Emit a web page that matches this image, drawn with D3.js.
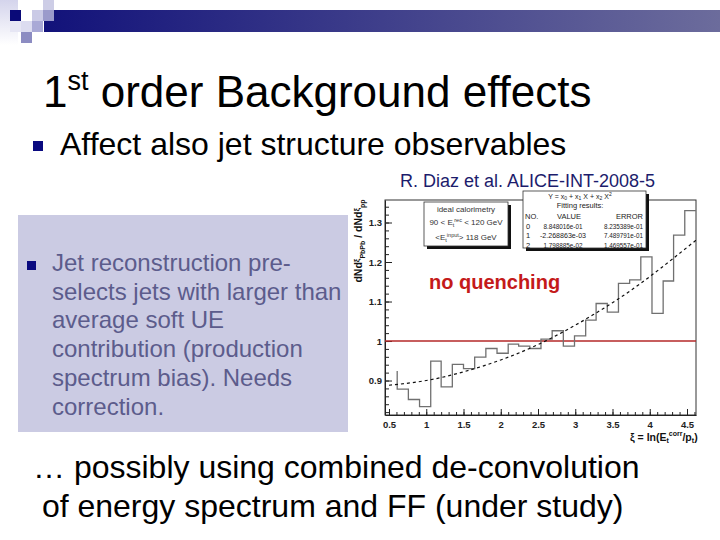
<!DOCTYPE html>
<html>
<head>
<meta charset="utf-8">
<script src="https://cdn.jsdelivr.net/npm/d3@7/dist/d3.min.js"></script>
<style>
  body { margin: 0; background: #fff; }
  svg { display: block; font-family: "Liberation Sans", Arial, sans-serif; }
</style>
</head>
<body>
<div id="slide"></div>
<script>
// bin edges of the ratio histogram (zeta)
const binEdges = [0.61, 0.76, 0.91, 1.06, 1.20, 1.35, 1.50, 1.65, 1.80, 1.95, 2.10, 2.24, 2.39, 2.54,
                  2.69, 2.84, 2.99, 3.14, 3.28, 3.43, 3.58, 3.73, 3.88, 4.03, 4.18, 4.32, 4.47, 4.62];
// dNdxi(PbPb) / dNdxi(pp) per bin
const ratio = [0.878, 0.852, 0.834, 0.949, 0.884, 0.941, 0.930, 0.959, 0.981, 0.969, 0.992, 0.987, 0.981,
               1.005, 1.026, 0.987, 1.013, 1.053, 1.095, 1.073, 1.146, 1.155, 1.213, 1.070, 1.152, 1.268, 1.330];
const leadIn = 0.924; // level the outline comes down from at the first edge
// dashed quadratic fit
const fitX = [0.5, 1.0, 1.5, 2.0, 2.5, 3.0, 3.5, 4.0, 4.62];
const fitY = [0.888, 0.900, 0.922, 0.952, 0.991, 1.040, 1.097, 1.163, 1.255];
const xTicks = [0.5, 1, 1.5, 2, 2.5, 3, 3.5, 4, 4.5];
const yTicks = [0.9, 1, 1.1, 1.2, 1.3];
const fitHeader = ["NO.", "VALUE", "ERROR"];
const fitRows = [
    ["0", "8.848016e-01", "8.235389e-01"],
    ["1", "-2.268863e-03", "7.489791e-01"],
    ["2", "1.798885e-02", "1.469557e-01"]
];
const sideLines = ["Jet reconstruction pre-", "selects jets with larger than", "average soft UE",
                   "contribution (production", "spectrum bias). Needs", "correction."];
const bottomLines = ["\u2026 possibly using combined de-convolution", " of energy spectrum and FF (under study)"];

const W = 720, H = 540;
const svg = d3.select("#slide").append("svg").attr("width", W).attr("height", H);

// ---- slide decoration
const defs = svg.append("defs");
const grad = defs.append("linearGradient").attr("id", "band");
grad.append("stop").attr("offset", "0%").attr("stop-color", "#12127a");
grad.append("stop").attr("offset", "100%").attr("stop-color", "#6c6c9c");
const fade = defs.append("linearGradient").attr("id", "fade").attr("x1", 0).attr("x2", 0).attr("y1", 0).attr("y2", 1);
fade.append("stop").attr("offset", "0%").attr("stop-color", "#d4d4ec");
fade.append("stop").attr("offset", "100%").attr("stop-color", "#ffffff");

svg.append("rect").attr("x", 0).attr("y", 0).attr("width", 18).attr("height", 45).attr("fill", "url(#fade)");
svg.append("rect").attr("x", 44).attr("y", 10).attr("width", 676).attr("height", 22).attr("fill", "url(#band)");
[
    [10, 10, "#0a0a78"], [32, 10, "#cacae6"], [43, 0, "#cdcde6"], [43, 10, "#9a9acb"],
    [21, 21, "#dcdcf0"], [32, 21, "#a9a9d6"], [21, 32, "#8c8cc2"], [10, 21, "#e6e6f4"]
].forEach(([x, y, c]) => svg.append("rect").attr("x", x).attr("y", y)
    .attr("width", 11).attr("height", 11).attr("fill", c));

// ---- title and bullets
const title = svg.append("text").attr("x", 43).attr("y", 107).attr("font-size", 44).attr("fill", "#000");
title.append("tspan").text("1");
title.append("tspan").attr("font-size", 27).attr("dy", -17).text("st");
title.append("tspan").attr("dy", 17).text(" order Background effects");

svg.append("rect").attr("x", 33).attr("y", 141).attr("width", 10).attr("height", 10).attr("fill", "#0a0a80");
svg.append("text").attr("x", 60).attr("y", 155).attr("font-size", 32).attr("fill", "#000")
    .text("Affect also jet structure observables");

svg.append("text").attr("x", 400).attr("y", 187).attr("font-size", 18).attr("fill", "#1c1c6c")
    .text("R. Diaz et al. ALICE-INT-2008-5");

// side box
svg.append("rect").attr("x", 18).attr("y", 215).attr("width", 330).attr("height", 217).attr("fill", "#cbcbe3");
svg.append("rect").attr("x", 27).attr("y", 261).attr("width", 9).attr("height", 9).attr("fill", "#0a0a80");
svg.append("g").selectAll("text").data(sideLines).join("text")
    .attr("x", 52).attr("y", (d, i) => 271 + i * 28.7)
    .attr("font-size", 24).attr("fill", "#5c5c8c").text(d => d);

svg.append("g").selectAll("text").data(bottomLines).join("text")
    .attr("x", 33).attr("y", (d, i) => 478 + i * 39)
    .attr("font-size", 32).attr("fill", "#000").attr("xml:space", "preserve").text(d => d);

// ---- the plot
const x = d3.scaleLinear().domain([0.4463, 4.6208]).range([385, 696]);
const y = d3.scaleLinear().domain([0.8127, 1.357]).range([415, 200]);
const plot = svg.append("g").attr("font-weight", "bold");

defs.append("clipPath").attr("id", "clip").append("rect")
    .attr("x", 385).attr("y", 200).attr("width", 311).attr("height", 215);

plot.append("rect").attr("x", 385).attr("y", 200).attr("width", 311).attr("height", 215)
    .attr("fill", "#fff").attr("stroke", "#333").attr("stroke-width", 1);

// axes
const fmt = d3.format("~g");
plot.append("g").attr("transform", "translate(0,415)")
    .call(d3.axisBottom(x).tickValues(xTicks).tickSize(-6).tickSizeOuter(0).tickPadding(6).tickFormat(fmt));
plot.append("g").attr("transform", "translate(0,415)")
    .call(d3.axisBottom(x).tickValues(d3.range(0.5, 4.61, 0.1)).tickSize(-3).tickFormat(""))
    .call(g => g.select(".domain").remove());
plot.append("g").attr("transform", "translate(385,0)")
    .call(d3.axisLeft(y).tickValues(yTicks).tickSize(-7).tickSizeOuter(0).tickPadding(3).tickFormat(fmt));
plot.append("g").attr("transform", "translate(385,0)")
    .call(d3.axisLeft(y).tickValues(d3.range(0.82, 1.355, 0.02)).tickSize(-4).tickFormat(""))
    .call(g => g.select(".domain").remove());
plot.selectAll(".tick text").attr("font-size", 9.5).attr("font-family", "Liberation Sans, Arial, sans-serif")
    .attr("font-weight", "bold").attr("fill", "#222");
plot.selectAll(".domain, .tick line").attr("stroke", "#222");

// red reference at 1
plot.append("line").attr("x1", x.range()[0]).attr("x2", x.range()[1])
    .attr("y1", y(1)).attr("y2", y(1)).attr("stroke", "#b42828").attr("stroke-width", 1.3);

// histogram outline
const steps = [[binEdges[0], leadIn]];
ratio.forEach((v, i) => { steps.push([binEdges[i], v]); steps.push([binEdges[i + 1], v]); });
plot.append("path").attr("clip-path", "url(#clip)")
    .attr("d", d3.line().x(d => x(d[0])).y(d => y(d[1]))(steps))
    .attr("fill", "none").attr("stroke", "#707070").attr("stroke-width", 1.3);

// fit curve
plot.append("path").attr("clip-path", "url(#clip)")
    .attr("d", d3.line().x(d => x(d[0])).y(d => y(d[1])).curve(d3.curveNatural)(fitX.map((v, i) => [v, fitY[i]])))
    .attr("fill", "none").attr("stroke", "#111").attr("stroke-width", 1.2).attr("stroke-dasharray", "3,3");

// axis titles
const yl = plot.append("text").attr("transform", "translate(362,241) rotate(-90)")
    .attr("text-anchor", "middle").attr("font-size", 10.5).attr("fill", "#111");
yl.append("tspan").text("dNd");
yl.append("tspan").attr("font-size", 8).attr("dy", -3).text("\u03be");
yl.append("tspan").attr("font-size", 7).attr("dy", 6).text("PbPb");
yl.append("tspan").attr("dy", -3).text(" / dNd");
yl.append("tspan").attr("font-size", 8).attr("dy", -3).text("\u03be");
yl.append("tspan").attr("font-size", 7).attr("dy", 6).text("pp");

const xl = plot.append("text").attr("x", 630).attr("y", 441).attr("font-size", 10.5).attr("fill", "#111");
xl.append("tspan").text("\u03be = ln(E");
xl.append("tspan").attr("font-size", 7).attr("dy", 2).text("t");
xl.append("tspan").attr("font-size", 7).attr("dy", -7).text("corr");
xl.append("tspan").attr("dy", 5).text("/p");
xl.append("tspan").attr("font-size", 7).attr("dy", 2).text("t");
xl.append("tspan").attr("dy", -2).text(")");

// "no quenching"
svg.append("text").attr("x", 429).attr("y", 289).attr("font-size", 20).attr("font-weight", "bold")
    .attr("fill", "#c41a1a").text("no quenching");

// boxes with shadow
function pave(x0, y0, w, h) {
    svg.append("rect").attr("x", x0 + 3).attr("y", y0 + 3).attr("width", w).attr("height", h).attr("fill", "#111");
    svg.append("rect").attr("x", x0).attr("y", y0).attr("width", w).attr("height", h)
        .attr("fill", "#fff").attr("stroke", "#333").attr("stroke-width", 0.8);
}
pave(424, 202, 84, 44);
const cal = svg.append("g").attr("font-size", 8).attr("fill", "#333").attr("text-anchor", "middle");
cal.append("text").attr("x", 466).attr("y", 212).text("ideal calorimetry");
const c2 = cal.append("text").attr("x", 466).attr("y", 225);
c2.append("tspan").text("90 < E");
c2.append("tspan").attr("font-size", 5.5).attr("dy", 2).text("t");
c2.append("tspan").attr("font-size", 5.5).attr("dy", -5).text("rec");
c2.append("tspan").attr("dy", 3).text(" < 120 GeV");
const c3 = cal.append("text").attr("x", 466).attr("y", 240);
c3.append("tspan").text("<E");
c3.append("tspan").attr("font-size", 5.5).attr("dy", 2).text("t");
c3.append("tspan").attr("font-size", 5.5).attr("dy", -5).text("input");
c3.append("tspan").attr("dy", 3).text("> 118 GeV");

pave(523, 191, 123, 57);
const fb = svg.append("g").attr("font-size", 8).attr("fill", "#222");
const f1 = fb.append("text").attr("x", 580).attr("y", 198.5).attr("text-anchor", "middle").attr("font-size", 7);
f1.append("tspan").text("Y = x");
f1.append("tspan").attr("font-size", 5).attr("dy", 1.5).text("0");
f1.append("tspan").attr("dy", -1.5).text(" + x");
f1.append("tspan").attr("font-size", 5).attr("dy", 1.5).text("1");
f1.append("tspan").attr("dy", -1.5).text(" X + x");
f1.append("tspan").attr("font-size", 5).attr("dy", 1.5).text("2");
f1.append("tspan").attr("dy", -1.5).text(" X");
f1.append("tspan").attr("font-size", 5).attr("dy", -3).text("2");
fb.append("text").attr("x", 580).attr("y", 208).attr("text-anchor", "middle").attr("font-size", 7.5).text("Fitting results:");
const colX = [525, 569, 643];
const colAnchor = ["start", "middle", "end"];
fb.append("g").selectAll("text").data(fitHeader).join("text")
    .attr("x", (d, i) => colX[i]).attr("y", 218.5).attr("text-anchor", (d, i) => colAnchor[i])
    .attr("font-size", 7.5).text(d => d);
fitRows.forEach((row, r) => {
    fb.append("g").selectAll("text").data(row).join("text")
        .attr("x", (d, i) => [526, 563, 643][i]).attr("y", 228.5 + r * 9.6)
        .attr("text-anchor", (d, i) => colAnchor[i])
        .attr("font-size", 7.5)
        .attr("textLength", (d, i) => i === 0 ? null : (d.length > 12 ? 46 : 39))
        .attr("lengthAdjust", "spacingAndGlyphs")
        .text(d => d);
});
</script>
</body>
</html>
